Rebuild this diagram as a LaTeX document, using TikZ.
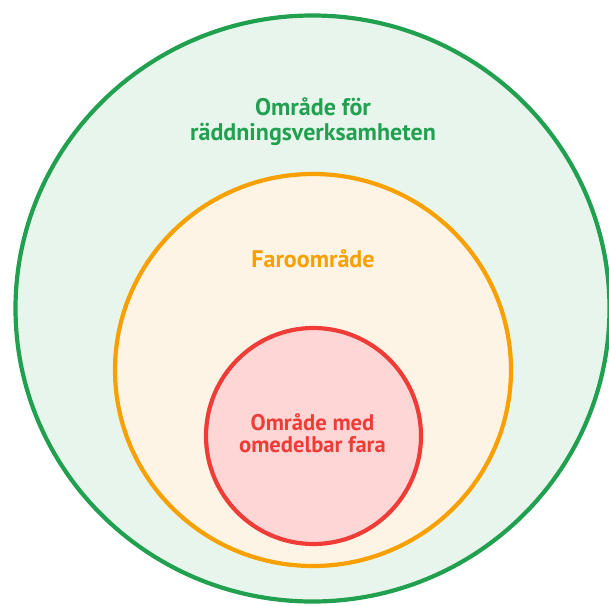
\documentclass[tikz,border=0pt]{standalone}
\usepackage{fontspec}
\setmainfont{PT Sans}
\definecolor{gstroke}{RGB}{33,160,80}
\definecolor{gfill}{RGB}{232,245,236}
\definecolor{ostroke}{RGB}{247,160,0}
\definecolor{ofill}{RGB}{254,244,230}
\definecolor{rstroke}{RGB}{240,60,55}
\definecolor{rfill}{RGB}{255,214,214}
\tikzset{
  zone/.style={line width=4.2pt},
  lbl/.style={inner sep=0pt, align=center, font=\bfseries},
}
\begin{document}
\begin{tikzpicture}[x=1pt,y=-1pt]
\useasboundingbox (0,0) rectangle (609,605);
\begin{scope}
\clip (0,0) rectangle (609,605);
\draw[zone, draw=gstroke, fill=gfill] (312.5,308.5) ellipse [x radius=297, y radius=293];
\draw[zone, draw=ostroke, fill=ofill] (313,370) ellipse [x radius=198, y radius=196];
\draw[zone, draw=rstroke, fill=rfill] (313.5,436) ellipse [x radius=107.5, y radius=108];
\end{scope}
\node[lbl, text=gstroke, anchor=base, font=\bfseries\fontsize{24}{24.5}\selectfont] (g) at (313,140) {Område för\\räddningsverksamheten};
\node[lbl, text=ostroke, anchor=base, font=\bfseries\fontsize{24}{24}\selectfont] (o) at (313,267) {Faroområde};
\node[lbl, text=rstroke, anchor=base, font=\bfseries\fontsize{22.6}{21.5}\selectfont] (r) at (312.5,452) {Område med\\omedelbar fara};
\end{tikzpicture}
\end{document}
